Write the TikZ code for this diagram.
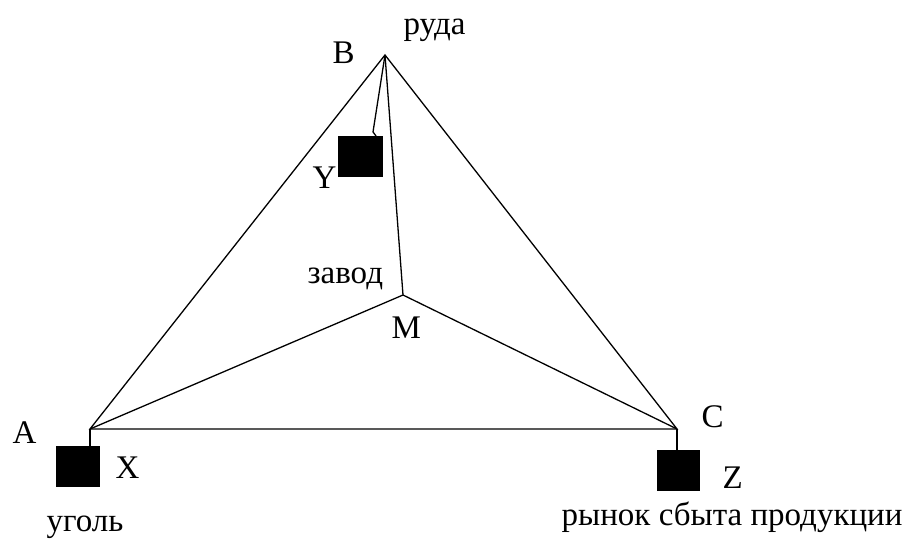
\documentclass[tikz,border=0pt]{standalone}
\usepackage{fontspec}
\setmainfont{Liberation Serif}
\begin{document}
\begin{tikzpicture}[x=1pt,y=-1pt, line width=1.3pt,
  lbl/.style={font=\fontsize{33}{38}\selectfont, inner sep=0pt, anchor=base west},
  blk/.style={fill=black, draw=black, line width=0.5pt, minimum width=43pt, minimum height=40pt, inner sep=0pt}]
\useasboundingbox (0,0) rectangle (908,541);
\coordinate (B) at (385,55);
\coordinate (A) at (90,429);
\coordinate (C) at (677,429);
\coordinate (M) at (403,295);
\coordinate (Yk) at (373,132);
\coordinate (Yt) at (376,136);
\node[blk, minimum width=44pt] (Y) at (360,156) {};
\node[blk] (X) at (77.5,466) {};
\node[blk, minimum width=42pt] (Z) at (678,470) {};
\draw (B) -- (A) -- (C) -- cycle;
\draw (B) -- (M);
\draw (A) -- (M) -- (C);
\draw (B) -- (Yk) -- (Yt);
\draw (A) -- (A |- X.north);
\draw (C) -- (C |- Z.north);
\node[lbl] (lruda) at (403,34) {руда};
\node[lbl] (lB) at (332,63) {B};
\node[lbl] (lY) at (312,188) {Y};
\node[lbl] (lzavod) at (307,283) {завод};
\node[lbl] (lM) at (391,338) {M};
\node[lbl] (lA) at (12,443) {A};
\node[lbl] (lX) at (115,478) {X};
\node[lbl] (lugol) at (46,531) {уголь};
\node[lbl] (lC) at (701,427) {C};
\node[lbl] (lZ) at (722,488) {Z};
\node[lbl] (lrynok) at (561,525) {рынок сбыта продукции};
\end{tikzpicture}
\end{document}
